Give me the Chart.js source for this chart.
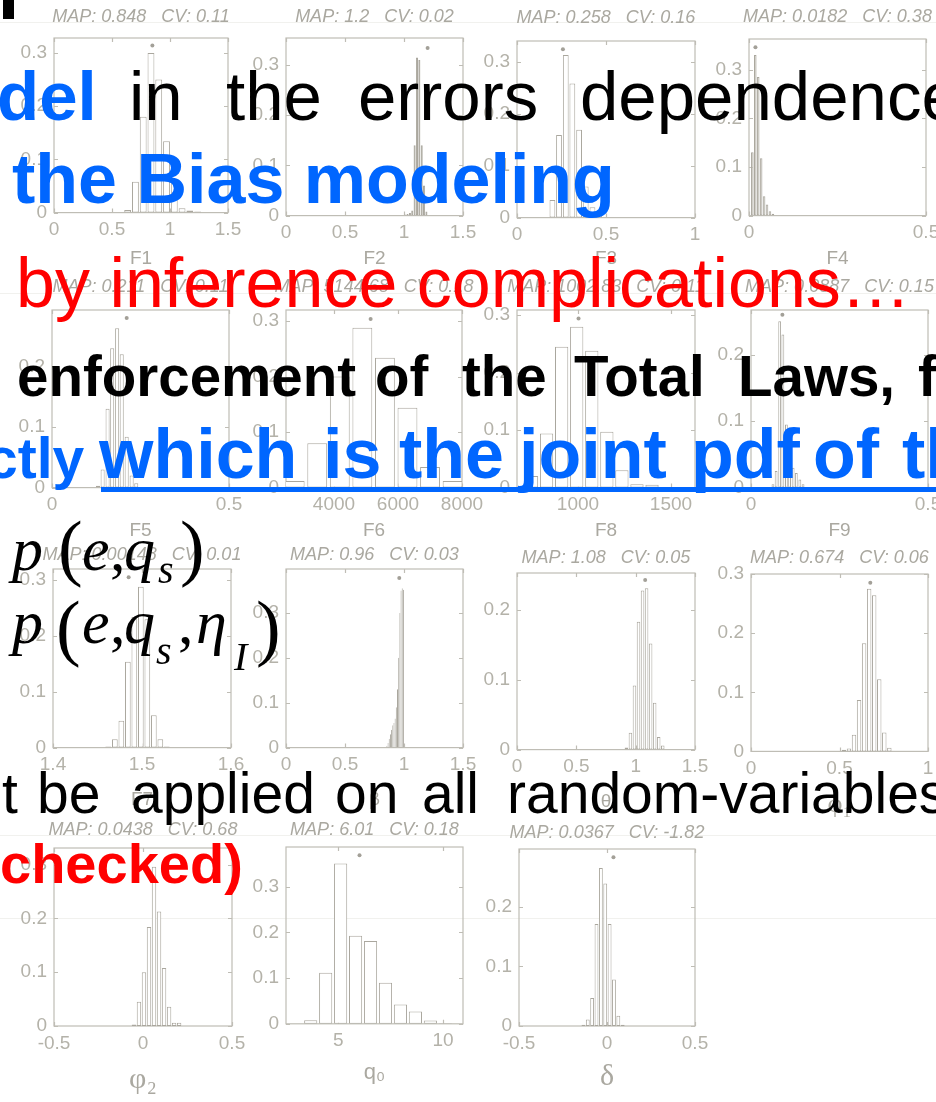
<!DOCTYPE html>
<html>
<head>
<meta charset="utf-8">
<title>Posterior marginals</title>
<script src="https://cdn.jsdelivr.net/npm/chart.js@4.4.1/dist/chart.umd.min.js"></script>
<style>
  html, body { margin: 0; padding: 0; background: #fff; }
  #page { position: relative; width: 936px; height: 1102px; overflow: hidden; background: #fff; }
  #page canvas { position: absolute; }
  .rule { position: absolute; left: 0; width: 936px; height: 1px; background: #f1f1ee; }
  .overlay { position: absolute; left: 0; top: 0; width: 936px; height: 1102px; z-index: 5; }
  .t { position: absolute; white-space: pre; line-height: 1; font-family: "Liberation Sans", Arial, Helvetica, sans-serif; }
  .bb { font-weight: bold; color: #0066ff; }
  .bk { font-weight: bold; color: #000; }
  .k { color: #000; }
  .r { color: #ff0000; }
  .rb { color: #ff0000; font-weight: bold; }
  .m { position: absolute; white-space: pre; line-height: 1; font-family: "Liberation Serif", "Times New Roman", serif; color: #000; }
  .i { font-style: italic; }
</style>
</head>
<body>
<div id="page">
  <div class="rule" style="top:22px"></div>
  <div class="rule" style="top:293px"></div>
  <div class="rule" style="top:835px"></div>
  <div class="rule" style="top:918px"></div>

  <div class="overlay">
    <div style="position:absolute;left:3px;top:0;width:11px;height:19px;background:#000"></div>

    <!-- line 1 -->
    <span class="t bb" style="left:-3px;top:62px;font-size:69px">del</span>
    <span class="t k" style="left:129px;top:62px;font-size:69px">in</span>
    <span class="t k" style="left:226px;top:62px;font-size:69px">the</span>
    <span class="t k" style="left:358px;top:62px;font-size:69px">errors</span>
    <span class="t k" style="left:580px;top:62px;font-size:69px">dependence</span>

    <!-- line 2 -->
    <span class="t bb" style="left:12px;top:144px;font-size:70px">the Bias modeling</span>

    <!-- line 3 -->
    <span class="t r" style="left:16px;top:248px;font-size:70px">by inference complications…</span>

    <!-- line 4 -->
    <span class="t bk" style="left:17px;top:349px;font-size:56.5px">enforcement</span>
    <span class="t bk" style="left:375px;top:349px;font-size:56.5px">of</span>
    <span class="t bk" style="left:462px;top:349px;font-size:56.5px">the</span>
    <span class="t bk" style="left:574px;top:349px;font-size:56.5px">Total</span>
    <span class="t bk" style="left:738px;top:349px;font-size:56.5px">Laws,</span>
    <span class="t bk" style="left:918px;top:349px;font-size:56.5px">f</span>

    <!-- line 5 -->
    <span class="t bb" style="left:-14px;top:430px;font-size:57px">ctly</span>
    <span class="t bb" style="left:99px;top:419px;font-size:70px">which</span>
    <span class="t bb" style="left:323px;top:419px;font-size:70px">is</span>
    <span class="t bb" style="left:399px;top:419px;font-size:70px">the</span>
    <span class="t bb" style="left:519px;top:419px;font-size:70px">joint</span>
    <span class="t bb" style="left:691px;top:419px;font-size:70px">pdf</span>
    <span class="t bb" style="left:813px;top:419px;font-size:70px">of</span>
    <span class="t bb" style="left:902px;top:419px;font-size:70px">th</span>
    <div style="position:absolute;left:101px;top:487px;width:835px;height:5px;background:#0066ff"></div>

    <!-- p(e,q_s) -->
    <span class="m i" style="left:12px;top:518px;font-size:62px">p</span>
    <span class="m" style="left:58px;top:510px;font-size:74px">(</span>
    <span class="m i" style="left:82px;top:518px;font-size:62px">e</span>
    <span class="m" style="left:110px;top:518px;font-size:62px">,</span>
    <span class="m i" style="left:124px;top:518px;font-size:62px">q</span>
    <span class="m i" style="left:158px;top:550px;font-size:40px">s</span>
    <span class="m" style="left:180px;top:510px;font-size:74px">)</span>

    <!-- p(e,q_s,eta_I) -->
    <span class="m i" style="left:12px;top:591px;font-size:62px">p</span>
    <span class="m" style="left:56px;top:590px;font-size:74px">(</span>
    <span class="m i" style="left:82px;top:591px;font-size:62px">e</span>
    <span class="m" style="left:110px;top:591px;font-size:62px">,</span>
    <span class="m i" style="left:124px;top:591px;font-size:62px">q</span>
    <span class="m i" style="left:156px;top:631px;font-size:40px">s</span>
    <span class="m" style="left:178px;top:591px;font-size:62px">,</span>
    <span class="m i" style="left:196px;top:591px;font-size:62px">η</span>
    <span class="m i" style="left:234px;top:637px;font-size:40px">I</span>
    <span class="m" style="left:256px;top:590px;font-size:74px">)</span>

    <!-- line 7 -->
    <span class="t k" style="left:2px;top:765px;font-size:57px">t</span>
    <span class="t k" style="left:37px;top:765px;font-size:57px">be</span>
    <span class="t k" style="left:131px;top:765px;font-size:57px">applied</span>
    <span class="t k" style="left:335px;top:765px;font-size:57px">on</span>
    <span class="t k" style="left:422px;top:765px;font-size:57px">all</span>
    <span class="t k" style="left:507px;top:765px;font-size:57px">random-variables</span>

    <!-- line 8 -->
    <span class="t rb" style="left:0px;top:836px;font-size:56px">checked)</span>
  </div>
</div>

<script>
// histogram bin centres and densities, one pair per parameter
const f1Bins = [0.635, 0.702, 0.769, 0.836, 0.903, 0.970, 1.037, 1.104, 1.171, 1.238];
const f1Dens = [0.005, 0.058, 0.18, 0.30, 0.25, 0.134, 0.058, 0.008, 0.004, 0.002];

const f2Bins = [1.01, 1.03, 1.05, 1.07, 1.09, 1.11, 1.13, 1.15, 1.17, 1.19];
const f2Dens = [0.002, 0.003, 0.005, 0.01, 0.14, 0.315, 0.31, 0.14, 0.06, 0.008];

const f3Bins = [0.199, 0.236, 0.274, 0.311, 0.349, 0.386, 0.424, 0.461];
const f3Dens = [0.034, 0.159, 0.313, 0.258, 0.169, 0.06, 0.02, 0.005];

const f4Bins = [0.0094, 0.0177, 0.026, 0.0343, 0.0426, 0.0509, 0.0592, 0.0675];
const f4Dens = [0.13, 0.33, 0.285, 0.118, 0.04, 0.023, 0.009, 0.004];

const f5Bins = [0.130, 0.143, 0.157, 0.170, 0.184, 0.197, 0.211, 0.225, 0.238];
const f5Dens = [0.003, 0.03, 0.13, 0.23, 0.263, 0.22, 0.084, 0.02, 0.007];

const f6Bins = [2771, 3476, 4181, 4886, 5591, 6296, 7001, 7706];
const f6Dens = [0.012, 0.08, 0.2, 0.288, 0.234, 0.144, 0.037, 0.012];

const f8Bins = [750, 831, 912, 993, 1074, 1155, 1236, 1317, 1398];
const f8Dens = [0.02, 0.094, 0.245, 0.28, 0.238, 0.097, 0.03, 0.006, 0.005];

const f9Bins = [0.062, 0.071, 0.081, 0.090, 0.100, 0.109, 0.119, 0.128, 0.138, 0.147];
const f9Dens = [0.005, 0.025, 0.25, 0.23, 0.095, 0.04, 0.03, 0.022, 0.012, 0.005];

const f7Bins = [1.462, 1.4695, 1.4768, 1.4841, 1.4914, 1.4987, 1.506, 1.5133, 1.5206, 1.5279];
const f7Dens = [0.002, 0.015, 0.048, 0.154, 0.234, 0.288, 0.23, 0.058, 0.015, 0.002];

const betaBins = [0.855, 0.865, 0.875, 0.885, 0.895, 0.905, 0.915, 0.925, 0.935, 0.945, 0.955, 0.965, 0.975, 0.985, 0.995];
const betaDens = [0.004, 0.01, 0.02, 0.03, 0.04, 0.05, 0.055, 0.065, 0.09, 0.13, 0.2, 0.3, 0.35, 0.355, 0.352];

const thetaBins = [0.922, 0.956, 0.990, 1.024, 1.058, 1.092, 1.126, 1.160, 1.194, 1.228];
const thetaDens = [0.003, 0.024, 0.092, 0.183, 0.228, 0.231, 0.152, 0.067, 0.018, 0.006];

const phi1Bins = [0.525, 0.5535, 0.582, 0.6105, 0.639, 0.6675, 0.696, 0.7245, 0.753, 0.7815];
const phi1Dens = [0.003, 0.005, 0.028, 0.087, 0.183, 0.275, 0.264, 0.122, 0.032, 0.006];

const phi2Bins = [-0.0509, -0.0227, 0.0055, 0.0337, 0.0619, 0.0901, 0.1183, 0.1465, 0.1747, 0.2029];
const phi2Dens = [0.003, 0.045, 0.1, 0.184, 0.296, 0.213, 0.108, 0.036, 0.006, 0.006];

const q0Bins = [3.68, 4.394, 5.108, 5.822, 6.536, 7.25, 7.964, 8.678, 9.392, 10.106];
const q0Dens = [0.008, 0.112, 0.351, 0.193, 0.181, 0.09, 0.042, 0.027, 0.007, 0.001];

const deltaBins = [-0.134, -0.1092, -0.0844, -0.0596, -0.0348, -0.01, 0.0148, 0.0396, 0.0644, 0.0892];
const deltaDens = [0.002, 0.011, 0.047, 0.171, 0.265, 0.239, 0.171, 0.078, 0.017, 0.002];

// MAP estimate (x of the marker) and the height the marker is drawn at
const mapValues = [0.848, 1.2, 0.258, 0.0182, 0.211, 5144.68, 1002.83, 0.0887,
                   1.485, 0.96, 1.08, 0.674, 0.0438, 6.01, 0.0367];
const markHeights = [0.314, 0.334, 0.324, 0.346, 0.28, 0.304, 0.294, 0.26,
                     0.305, 0.378, 0.243, 0.285, 0.31, 0.369, 0.283];

// x tick labels of each panel
const xTickSets = [
  [0, 0.5, 1, 1.5], [0, 0.5, 1, 1.5], [0, 0.5, 1], [0, 0.5],
  [0, 0.5], [4000, 6000, 8000], [1000, 1500], [0, 0.5],
  [1.4, 1.5, 1.6], [0, 0.5, 1, 1.5], [0, 0.5, 1, 1.5], [0, 0.5, 1],
  [-0.5, 0, 0.5], [5, 10], [-0.5, 0, 0.5]
];

const panelTitles = [
  'MAP: 0.848   CV: 0.11', 'MAP: 1.2   CV: 0.02', 'MAP: 0.258   CV: 0.16', 'MAP: 0.0182   CV: 0.38',
  'MAP: 0.211   CV: 0.11', 'MAP: 5144.68   CV: 0.18', 'MAP: 1002.83   CV: 0.11', 'MAP: 0.0887   CV: 0.15',
  'MAP: 0.00148   CV: 0.01', 'MAP: 0.96   CV: 0.03', 'MAP: 1.08   CV: 0.05', 'MAP: 0.674   CV: 0.06',
  'MAP: 0.0438   CV: 0.68', 'MAP: 6.01   CV: 0.18', 'MAP: 0.0367   CV: -1.82'
];
const panelLabels = ['F1', 'F2', 'F3', 'F4', 'F5', 'F6', 'F8', 'F9',
                     'F7', 'β', 'θ', 'φ₁', 'φ₂', 'q₀', 'δ'];

const FONT = '"Liberation Sans", Arial, Helvetica, sans-serif';
const SERIF = '"Liberation Serif", "Times New Roman", serif';
const FRAME = '#bfbdb5';
const TICK = '#b4b2a9';
const TITLE = '#aaa8a0';
const EDGE = '#aaa79e';
const SOLID = '#c8c6be';
const DOT = '#a3a098';

// plot boxes [left, top, right, bottom] in page pixels, axis ranges and label spots
const frames = [
  { box: [54, 38, 228, 213],  x: [0, 1.5],     yMax: 0.328, titleY: 16.5, labelY: 259 },
  { box: [286, 38, 463, 216], x: [0, 1.5],     yMax: 0.354, titleY: 16.5, labelY: 259, solid: true },
  { box: [517, 41, 695, 218], x: [0, 1],       yMax: 0.34,  titleY: 17.5, labelY: 259 },
  { box: [749, 39, 926, 216], x: [0, 0.5],     yMax: 0.363, titleY: 16.5, labelY: 259, solid: true },

  { box: [52, 310, 229, 488],  x: [0, 0.5],     yMax: 0.293, titleY: 287, labelY: 531 },
  { box: [286, 310, 462, 488], x: [2500, 8000], yMax: 0.32,  titleY: 287, labelY: 531 },
  { box: [517, 310, 695, 488], x: [672, 1629],  yMax: 0.309, titleY: 287, labelY: 531 },
  { box: [751, 310, 928, 488], x: [0, 0.5],     yMax: 0.267, titleY: 287, labelY: 531 },

  { box: [53, 569, 231, 748],  x: [1.4, 1.6],   yMax: 0.32,  titleY: 555, labelY: 800 },
  { box: [286, 569, 463, 748], x: [0, 1.5],     yMax: 0.398, titleY: 555, labelY: 800, solid: true },
  { box: [517, 573, 695, 750], x: [0, 1.5],     yMax: 0.253, titleY: 558, labelY: 802 },
  { box: [751, 574, 928, 752], x: [0, 1],       yMax: 0.3,   titleY: 558, labelY: 806, labelFont: 26, serif: true },

  { box: [54, 848, 232, 1026],  x: [-0.5, 0.5], yMax: 0.331, titleY: 830, labelY: 1080, labelFont: 30, serif: true },
  { box: [286, 847, 463, 1024], x: [2.5, 10.95], yMax: 0.387, titleY: 830, labelY: 1073, labelFont: 22 },
  { box: [519, 849, 695, 1026], x: [-0.5, 0.5], yMax: 0.297, titleY: 833, labelY: 1077, labelFont: 30, serif: true }
];

const binSets = [f1Bins, f2Bins, f3Bins, f4Bins, f5Bins, f6Bins, f8Bins, f9Bins,
                 f7Bins, betaBins, thetaBins, phi1Bins, phi2Bins, q0Bins, deltaBins];
const densSets = [f1Dens, f2Dens, f3Dens, f4Dens, f5Dens, f6Dens, f8Dens, f9Dens,
                  f7Dens, betaDens, thetaDens, phi1Dens, phi2Dens, q0Dens, deltaDens];

const fmt = v => String(parseFloat(Number(v).toFixed(4)));

// boxed axes with short inward ticks on all four sides
const boxAxes = {
  id: 'boxAxes',
  beforeDatasetsDraw(chart) {
    const { ctx, chartArea: a, scales: { x, y } } = chart;
    ctx.save();
    ctx.strokeStyle = FRAME;
    ctx.lineWidth = 1.2;
    ctx.strokeRect(a.left, a.top, a.right - a.left, a.bottom - a.top);
    ctx.beginPath();
    x.ticks.forEach(t => {
      const px = Math.round(x.getPixelForValue(t.value)) + 0.5;
      ctx.moveTo(px, a.bottom); ctx.lineTo(px, a.bottom - 4);
      ctx.moveTo(px, a.top); ctx.lineTo(px, a.top + 4);
    });
    y.ticks.forEach(t => {
      const py = Math.round(y.getPixelForValue(t.value)) + 0.5;
      ctx.moveTo(a.left, py); ctx.lineTo(a.left + 4, py);
      ctx.moveTo(a.right, py); ctx.lineTo(a.right - 4, py);
    });
    ctx.stroke();
    ctx.restore();
  }
};

// MAP / CV line centred over the plot box
const mapCaption = {
  id: 'mapCaption',
  afterDraw(chart, args, opts) {
    const { ctx, chartArea: a } = chart;
    ctx.save();
    ctx.font = 'italic 18px ' + FONT;
    ctx.fillStyle = TITLE;
    ctx.textAlign = 'center';
    ctx.textBaseline = 'middle';
    ctx.fillText(opts.text, (a.left + a.right) / 2, a.top - opts.gap);
    ctx.restore();
  }
};

const page = document.getElementById('page');
const overlay = page.querySelector('.overlay');
const TOP = 44;     // room for the MAP/CV line above each box
const SIDE = 50;    // room for y tick labels, mirrored on the right

frames.forEach((f, i) => {
  const [l, t, r, b] = f.box;
  const labelSize = f.labelFont || 19;
  const axisH = (f.labelY - b) + 2 + labelSize * 0.6;

  const canvas = document.createElement('canvas');
  canvas.width = (r - l) + SIDE * 2;
  canvas.height = TOP + (b - t) + axisH;
  canvas.style.left = (l - SIDE) + 'px';
  canvas.style.top = (t - TOP) + 'px';
  page.insertBefore(canvas, overlay);

  const bars = binSets[i].map((x, k) => ({ x, y: densSets[i][k] }));

  new Chart(canvas.getContext('2d'), {
    type: 'bar',
    data: {
      datasets: [
        {
          data: bars,
          backgroundColor: f.solid ? SOLID : '#ffffff',
          borderColor: EDGE,
          borderWidth: 1,
          borderSkipped: false,
          barPercentage: 0.88,
          categoryPercentage: 1
        },
        {
          type: 'scatter',
          data: [{ x: mapValues[i], y: markHeights[i] }],
          pointRadius: 2,
          pointBorderWidth: 0,
          pointBackgroundColor: DOT
        }
      ]
    },
    options: {
      responsive: false,
      animation: false,
      events: [],
      layout: { padding: { left: 0, right: SIDE, top: TOP, bottom: 0 } },
      plugins: {
        legend: { display: false },
        tooltip: { enabled: false },
        title: { display: false },
        mapCaption: { text: panelTitles[i], gap: t - f.titleY }
      },
      scales: {
        x: {
          type: 'linear',
          min: f.x[0],
          max: f.x[1],
          offset: false,
          grid: { display: false, drawTicks: false },
          border: { display: false },
          ticks: {
            autoSkip: false,
            maxRotation: 0,
            padding: 6,
            color: TICK,
            font: { family: FONT, size: 19 },
            callback: fmt
          },
          afterBuildTicks: s => { s.ticks = xTickSets[i].map(v => ({ value: v })); },
          title: {
            display: true,
            text: panelLabels[i],
            color: TITLE,
            font: { family: f.serif ? SERIF : FONT, size: labelSize, lineHeight: 1.2 },
            padding: { top: 0, bottom: 2 }
          },
          afterFit: s => { s.height = axisH; }
        },
        y: {
          min: 0,
          max: f.yMax,
          grid: { display: false, drawTicks: false },
          border: { display: false },
          ticks: {
            stepSize: 0.1,
            includeBounds: false,
            padding: 7,
            color: TICK,
            font: { family: FONT, size: 19 },
            callback: fmt
          },
          afterFit: s => { s.width = SIDE; }
        }
      }
    },
    plugins: [boxAxes, mapCaption]
  });
});
</script>
</body>
</html>
